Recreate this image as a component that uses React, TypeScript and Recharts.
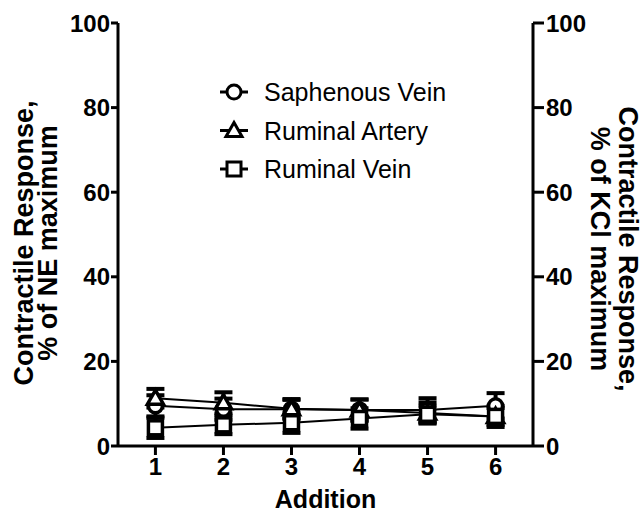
import React from 'react';
import { LineChart, Line, XAxis, YAxis, ErrorBar, Legend } from 'recharts';

const additions = [1, 2, 3, 4, 5, 6];
const saphenousVein = [9.5, 8.7, 8.7, 8.5, 8.5, 9.5];
const saphenousVeinErr = [2.5, 2.5, 2.2, 2.5, 2.8, 3.0];
const ruminalArtery = [11.3, 10.2, 8.8, 8.5, 7.8, 7.0];
const ruminalArteryErr = [2.2, 2.5, 2.3, 2.5, 2.5, 2.5];
const ruminalVein = [4.3, 5.0, 5.5, 6.5, 7.5, 7.0];
const ruminalVeinErr = [2.4, 2.2, 2.4, 2.4, 2.0, 2.0];
const yTicks = [0, 20, 40, 60, 80, 100];

const data = additions.map((x, i) => ({
  x,
  sv: saphenousVein[i],
  svErr: saphenousVeinErr[i],
  ra: ruminalArtery[i],
  raErr: ruminalArteryErr[i],
  rv: ruminalVein[i],
  rvErr: ruminalVeinErr[i],
}));

const FONT = '"Liberation Sans", Arial, Helvetica, sans-serif';

type Shape = 'circle' | 'triangle' | 'square';

const markerEl = (shape: Shape, cx: number, cy: number, key?: any, sw = 3.5) => {
  const common = { stroke: '#000', strokeWidth: sw, fill: '#fff' };
  if (shape === 'circle') return <circle key={key} cx={cx} cy={cy} r={7} {...common} />;
  if (shape === 'triangle')
    return (
      <polygon
        key={key}
        points={`${cx},${cy - 8} ${cx + 8},${cy + 6} ${cx - 8},${cy + 6}`}
        {...common}
        strokeLinejoin="miter"
      />
    );
  return <rect key={key} x={cx - 7} y={cy - 7} width={14} height={14} {...common} />;
};

const makeDot = (shape: Shape) => (props: any) => {
  const { cx, cy, index } = props;
  if (cx == null || cy == null) return <g key={`${shape}-${index}`} />;
  return markerEl(shape, cx, cy, `${shape}-${index}`);
};

const legendItems: { label: string; shape: Shape }[] = [
  { label: 'Saphenous Vein', shape: 'circle' },
  { label: 'Ruminal Artery', shape: 'triangle' },
  { label: 'Ruminal Vein', shape: 'square' },
];

const LegendContent = () => (
  <svg width={260} height={120}>
    {legendItems.map((it, i) => {
      const cy = 20 + i * 38.5;
      return (
        <g key={it.label}>
          <line x1={5} x2={33} y1={cy} y2={cy} stroke="#000" strokeWidth={3} />
          {markerEl(it.shape, 19, cy, undefined, 3)}
          <text x={49} y={cy + 9} fontFamily={FONT} fontSize={25} fill="#000">
            {it.label}
          </text>
        </g>
      );
    })}
  </svg>
);

const LeftTitle = () => (
  <g fontFamily={FONT} fontWeight="bold" fontSize={27} fill="#000">
    <text transform="translate(33,243) rotate(-90)" textAnchor="middle">
      Contractile Response,
    </text>
    <text transform="translate(57,243) rotate(-90)" textAnchor="middle">
      % of NE maximum
    </text>
  </g>
);

const RightTitle = () => (
  <g fontFamily={FONT} fontWeight="bold" fontSize={27} fill="#000">
    <text transform="translate(619,249) rotate(90)" textAnchor="middle">
      Contractile Response,
    </text>
    <text transform="translate(591,249) rotate(90)" textAnchor="middle">
      % of KCl maximum
    </text>
  </g>
);

const tickStyle = { fontFamily: FONT, fontWeight: 'bold', fontSize: 24, fill: '#000' };

export default function App() {
  return (
    <div style={{ position: 'absolute', left: 0, top: 0, background: '#fff' }}>
      <LineChart
        width={642}
        height={517}
        data={data}
        margin={{ top: 23, right: 0, bottom: 0, left: 0 }}
      >
        <XAxis
          dataKey="x"
          type="number"
          domain={[0.45, 6.55]}
          ticks={additions}
          height={71}
          stroke="#000"
          strokeWidth={3}
          tickSize={9}
          tickMargin={3}
          tick={tickStyle}
          tickLine={{ stroke: '#000', strokeWidth: 3 }}
          label={{
            value: 'Addition',
            position: 'insideBottom',
            offset: 9,
            style: { fontFamily: FONT, fontWeight: 'bold', fontSize: 25, fill: '#000' },
          }}
        />
        <YAxis
          yAxisId="left"
          width={118}
          type="number"
          domain={[0, 100]}
          ticks={yTicks}
          stroke="#000"
          strokeWidth={3}
          tickSize={7}
          tickMargin={1}
          tick={tickStyle}
          tickLine={{ stroke: '#000', strokeWidth: 3 }}
          label={<LeftTitle />}
        />
        <YAxis
          yAxisId="right"
          orientation="right"
          width={109}
          type="number"
          domain={[0, 100]}
          allowDataOverflow
          ticks={yTicks}
          stroke="#000"
          strokeWidth={3}
          tickSize={11}
          tickMargin={2}
          tick={tickStyle}
          tickLine={{ stroke: '#000', strokeWidth: 3 }}
          label={<RightTitle />}
        />
        <Legend
          layout="vertical"
          align="center"
          verticalAlign="middle"
          content={<LegendContent />}
          wrapperStyle={{ position: 'absolute', left: 215, top: 72, width: 260, height: 120 }}
        />
        <Line
          yAxisId="right"
          dataKey="sv"
          stroke="none"
          dot={false}
          activeDot={false}
          legendType="none"
          isAnimationActive={false}
        />
        <Line
          yAxisId="left"
          dataKey="sv"
          stroke="#000"
          strokeWidth={2}
          dot={makeDot('circle')}
          activeDot={false}
          isAnimationActive={false}
        >
          <ErrorBar dataKey="svErr" direction="y" width={9} stroke="#000" strokeWidth={4} />
        </Line>
        <Line
          yAxisId="left"
          dataKey="ra"
          stroke="#000"
          strokeWidth={2}
          dot={makeDot('triangle')}
          activeDot={false}
          isAnimationActive={false}
        >
          <ErrorBar dataKey="raErr" direction="y" width={9} stroke="#000" strokeWidth={4} />
        </Line>
        <Line
          yAxisId="left"
          dataKey="rv"
          stroke="#000"
          strokeWidth={2}
          dot={makeDot('square')}
          activeDot={false}
          isAnimationActive={false}
        >
          <ErrorBar dataKey="rvErr" direction="y" width={9} stroke="#000" strokeWidth={4} />
        </Line>
      </LineChart>
    </div>
  );
}
